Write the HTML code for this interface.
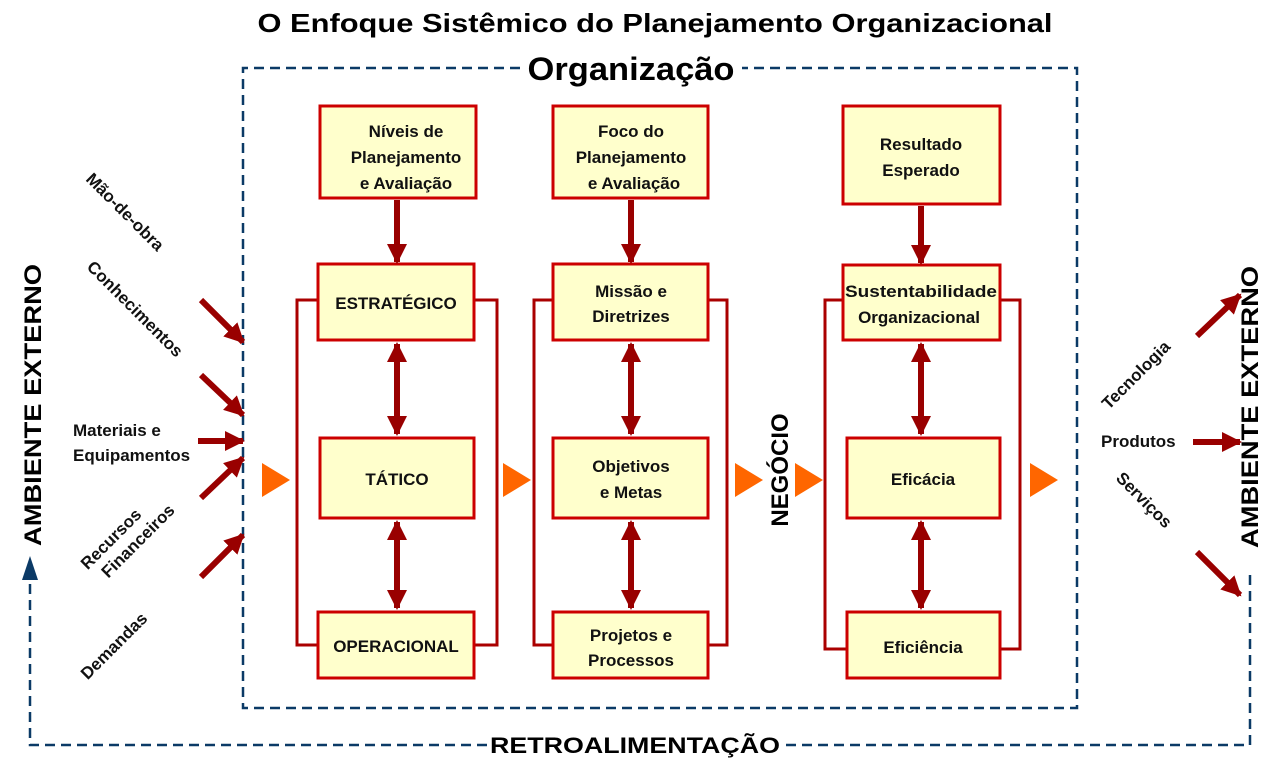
<!DOCTYPE html>
<html><head><meta charset="utf-8"><style>html,body{margin:0;padding:0;background:#fff}svg{display:block}text{font-weight:bold}</style></head>
<body>
<svg width="1275" height="765" viewBox="0 0 1275 765" xmlns="http://www.w3.org/2000/svg" font-family="Liberation Sans, Arial, sans-serif" font-weight="bold">
<defs>
<marker id="ah" markerUnits="userSpaceOnUse" markerWidth="20" markerHeight="20" viewBox="0 0 20 20" refX="18" refY="10" orient="auto-start-reverse"><path d="M0,0 L20,10 L0,20 Z" fill="#990000"/></marker>
</defs>
<text x="655" y="32" font-size="26" text-anchor="middle" textLength="795" lengthAdjust="spacingAndGlyphs">O Enfoque Sistêmico do Planejamento Organizacional</text>
<path d="M520,68 H243 V708 H1077 V68 H742" fill="none" stroke="#0b3a66" stroke-width="2.5" stroke-dasharray="10,6"/>
<text x="631" y="80" font-size="32" text-anchor="middle" textLength="207" lengthAdjust="spacingAndGlyphs">Organização</text>
<path d="M1250,575 V745 H785 M487,745 H30 V565" fill="none" stroke="#0b3a66" stroke-width="2.5" stroke-dasharray="10,6"/>
<path d="M22,580 L30,556 L38,580 Z" fill="#0b3a66"/>
<text x="635" y="753" font-size="22" text-anchor="middle" textLength="290" lengthAdjust="spacingAndGlyphs">RETROALIMENTAÇÃO</text>
<text transform="translate(41,405) rotate(-90)" font-size="24" text-anchor="middle" textLength="282" lengthAdjust="spacingAndGlyphs">AMBIENTE EXTERNO</text>
<text transform="translate(1258,407) rotate(-90)" font-size="24" text-anchor="middle" textLength="282" lengthAdjust="spacingAndGlyphs">AMBIENTE EXTERNO</text>
<text transform="translate(788,470) rotate(-90)" font-size="24" text-anchor="middle">NEGÓCIO</text>
<g fill="none" stroke="#aa0000" stroke-width="3">
<path d="M320,300 H297 V645 H320 M474,300 H497 V645 H474"/>
<path d="M553,300 H534 V645 H553 M708,300 H727 V645 H708"/>
<path d="M845,300 H825 V649 H848 M1000,300 H1020 V649 H1000"/>
</g>
<g fill="#ffffcc" stroke="#cc0000" stroke-width="3">
<rect x="320" y="106" width="156" height="92"/>
<rect x="318" y="264" width="156" height="76"/>
<rect x="320" y="438" width="154" height="80"/>
<rect x="318" y="612" width="156" height="66"/>
<rect x="553" y="106" width="155" height="92"/>
<rect x="553" y="264" width="155" height="76"/>
<rect x="553" y="438" width="155" height="80"/>
<rect x="553" y="612" width="155" height="66"/>
<rect x="843" y="106" width="157" height="98"/>
<rect x="843" y="265" width="157" height="75"/>
<rect x="847" y="438" width="153" height="80"/>
<rect x="847" y="612" width="153" height="66"/>
</g>
<g font-size="17" text-anchor="middle" fill="#111">
<text x="406" y="137">Níveis de</text><text x="406" y="163">Planejamento</text><text x="406" y="189">e Avaliação</text>
<text x="396" y="309">ESTRATÉGICO</text>
<text x="397" y="485">TÁTICO</text>
<text x="396" y="652">OPERACIONAL</text>
<text x="631" y="137">Foco do</text><text x="631" y="163">Planejamento</text><text x="634" y="189">e Avaliação</text>
<text x="631" y="297">Missão e</text><text x="631" y="322">Diretrizes</text>
<text x="631" y="472">Objetivos</text><text x="631" y="498">e Metas</text>
<text x="631" y="641">Projetos e</text><text x="631" y="666">Processos</text>
<text x="921" y="150">Resultado</text><text x="921" y="176">Esperado</text>
<text x="921" y="297" textLength="152" lengthAdjust="spacingAndGlyphs">Sustentabilidade</text><text x="919" y="323">Organizacional</text>
<text x="923" y="485">Eficácia</text>
<text x="923" y="653">Eficiência</text>
</g>
<g stroke="#990000" stroke-width="6" fill="none">
<line x1="397" y1="200" x2="397" y2="262" marker-end="url(#ah)"/>
<line x1="397" y1="344" x2="397" y2="434" marker-start="url(#ah)" marker-end="url(#ah)"/>
<line x1="397" y1="522" x2="397" y2="608" marker-start="url(#ah)" marker-end="url(#ah)"/>
<line x1="631" y1="200" x2="631" y2="262" marker-end="url(#ah)"/>
<line x1="631" y1="344" x2="631" y2="434" marker-start="url(#ah)" marker-end="url(#ah)"/>
<line x1="631" y1="522" x2="631" y2="608" marker-start="url(#ah)" marker-end="url(#ah)"/>
<line x1="921" y1="206" x2="921" y2="263" marker-end="url(#ah)"/>
<line x1="921" y1="344" x2="921" y2="434" marker-start="url(#ah)" marker-end="url(#ah)"/>
<line x1="921" y1="522" x2="921" y2="608" marker-start="url(#ah)" marker-end="url(#ah)"/>
<line x1="201" y1="300" x2="243" y2="342" marker-end="url(#ah)"/>
<line x1="201" y1="375" x2="243" y2="415" marker-end="url(#ah)"/>
<line x1="198" y1="441" x2="243" y2="441" marker-end="url(#ah)"/>
<line x1="201" y1="498" x2="243" y2="458" marker-end="url(#ah)"/>
<line x1="201" y1="577" x2="243" y2="535" marker-end="url(#ah)"/>
<line x1="1197" y1="336" x2="1240" y2="295" marker-end="url(#ah)"/>
<line x1="1193" y1="442" x2="1240" y2="442" marker-end="url(#ah)"/>
<line x1="1197" y1="552" x2="1240" y2="595" marker-end="url(#ah)"/>
</g>
<g fill="#ff6600">
<path d="M262,463 L290,480 L262,497 Z"/>
<path d="M503,463 L531,480 L503,497 Z"/>
<path d="M735,463 L763,480 L735,497 Z"/>
<path d="M795,463 L823,480 L795,497 Z"/>
<path d="M1030,463 L1058,480 L1030,497 Z"/>
</g>
<g font-size="17" fill="#111">
<text transform="translate(121,216) rotate(45)" text-anchor="middle">Mão-de-obra</text>
<text transform="translate(131,313) rotate(45)" text-anchor="middle">Conhecimentos</text>
<text x="73" y="436">Materiais e</text>
<text x="73" y="461">Equipamentos</text>
<text transform="translate(115,543) rotate(-45)" text-anchor="middle">Recursos</text>
<text transform="translate(142,545) rotate(-45)" text-anchor="middle">Financeiros</text>
<text transform="translate(118,650) rotate(-45)" text-anchor="middle">Demandas</text>
<text transform="translate(1140,379) rotate(-45)" text-anchor="middle">Tecnologia</text>
<text x="1101" y="447">Produtos</text>
<text transform="translate(1140,504) rotate(45)" text-anchor="middle">Serviços</text>
</g>
</svg>
</body></html>
